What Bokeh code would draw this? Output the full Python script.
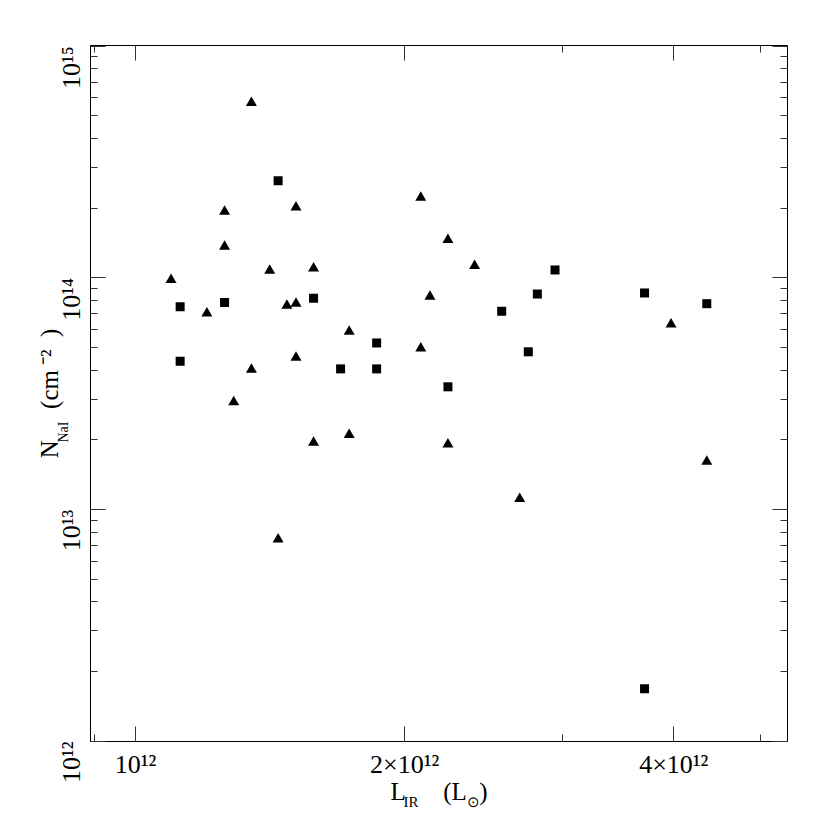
import math
from bokeh.plotting import figure
from bokeh.models import FixedTicker, LogAxis, Range1d, Label
from bokeh.embed import file_html
from bokeh.resources import INLINE

# ---- data ----
tri_L = [1.348e12, 1.512e12, 1.258e12, 1.258e12, 1.413e12, 1.582e12, 1.096e12,
         1.202e12, 1.477e12, 1.512e12, 1.734e12, 1.512e12, 1.348e12, 1.288e12,
         1.582e12, 1.734e12, 1.444e12, 2.085e12, 2.236e12, 2.395e12, 2.135e12,
         2.085e12, 2.236e12, 2.690e12, 3.972e12, 4.355e12]
tri_N = [5.69e14, 2.017e14, 1.932e14, 1.365e14, 1.075e14, 1.100e14, 9.80e13,
         7.04e13, 7.59e13, 7.75e13, 5.87e13, 4.53e13, 4.02e13, 2.91e13,
         1.948e13, 2.102e13, 7.45e12, 2.220e14, 1.458e14, 1.127e14, 8.30e13,
         4.97e13, 1.915e13, 1.113e13, 6.30e13, 1.613e13]

sq_L = [1.122e12, 1.122e12, 1.258e12, 1.444e12, 1.582e12, 1.696e12, 1.861e12,
        1.861e12, 2.236e12, 2.568e12, 2.750e12, 2.815e12, 2.946e12, 3.710e12,
        3.710e12, 4.355e12]
sq_N = [7.51e13, 4.37e13, 7.83e13, 2.626e14, 8.17e13, 4.05e13, 5.24e13,
        4.05e13, 3.39e13, 7.18e13, 4.80e13, 8.52e13, 1.082e14, 8.61e13,
        1.69e12, 7.74e13]

x_major = [1e12, 2e12, 4e12]
x_minor = [9e11, 3e12, 5e12]
x_labels = ["10¹²", "2×10¹²", "4×10¹²"]
y_major = [1e12, 1e13, 1e14, 1e15]
y_minor = [m * 10.0 ** e for e in (12, 13, 14) for m in range(2, 10)]
y_labels = ["10¹²", "10¹³", "10¹⁴", "10¹⁵"]

NB = "\u00a0"
x_title = "L" + NB * 6 + "(L" + NB * 2 + ")"
x_title_sub = "IR" + "\u2003\u2003\u2003" + NB + "⊙"
y_title = "N" + NB * 5 + "(cm\u2009⁻²\u2002)"
y_title_sub = "NaI"

FONT = "Liberation Serif"

p = figure(
    frame_width=697, frame_height=696,
    x_axis_type="log", y_axis_type="log",
    x_range=Range1d(8.907e11, 5.361e12), y_range=Range1d(1e12, 1.006e15),
    output_backend="svg", toolbar_location=None,
    min_border_left=90, min_border_top=45, min_border_right=38, min_border_bottom=84,
)
p.title.visible = False
p.background_fill_color = "white"
p.border_fill_color = "white"
p.grid.visible = False
p.outline_line_color = "black"

xt = FixedTicker(ticks=x_major, minor_ticks=x_minor)
yt = FixedTicker(ticks=y_major, minor_ticks=y_minor)

top = LogAxis()
right = LogAxis()
p.add_layout(top, "above")
p.add_layout(right, "right")

def style(ax, ticker):
    ax.ticker = ticker
    ax.axis_line_color = "black"
    ax.axis_line_width = 1
    ax.major_tick_in = 15
    ax.major_tick_out = 0
    ax.minor_tick_in = 7
    ax.minor_tick_out = 0
    ax.major_tick_line_color = "#333333"
    ax.minor_tick_line_color = "#333333"
    ax.major_label_text_font = FONT
    ax.major_label_text_font_size = "26px"
    ax.major_label_text_color = "black"
    ax.axis_label_text_font = FONT
    ax.axis_label_text_font_size = "25px"
    ax.axis_label_text_font_style = "normal"
    ax.axis_label_text_color = "black"

for ax in p.xaxis:
    style(ax, xt)
for ax in p.yaxis:
    style(ax, yt)

bottom_ax = p.below[0]
left_ax = p.left[0]
bottom_ax.major_label_overrides = {v: s for v, s in zip(x_major, x_labels)}
bottom_ax.major_label_standoff = 8
bottom_ax.axis_label = x_title
bottom_ax.axis_label_standoff = -4
left_ax.major_label_overrides = {v: s for v, s in zip(y_major, y_labels)}
left_ax.major_label_orientation = math.pi / 2
left_ax.major_label_standoff = 19
left_ax.axis_label = y_title
left_ax.axis_label_standoff = -23
for ax in (top, right):
    ax.major_label_text_font_size = "1px"
    ax.major_label_text_alpha = 0
    ax.major_label_standoff = 0

p.scatter(tri_L, tri_N, marker="triangle", size=11, fill_color="black", line_color=None)
p.scatter(sq_L, sq_N, marker="square", size=9, fill_color="black", line_color=None)

# subscripts of the axis titles (hosted in the upper side panel, not clipped)
p.add_layout(Label(x=313, y=-756, x_units="screen", y_units="screen", text=x_title_sub,
                   text_font=FONT, text_font_size="15px", text_color="black",
                   text_align="left", text_baseline="alphabetic"), "above")
p.add_layout(Label(x=-27, y=-413, x_units="screen", y_units="screen", text=y_title_sub,
                   text_font=FONT, text_font_size="14px", text_color="black",
                   text_align="left", text_baseline="alphabetic", angle=math.pi / 2), "above")

open("out.html", "w").write(file_html(p, INLINE))
